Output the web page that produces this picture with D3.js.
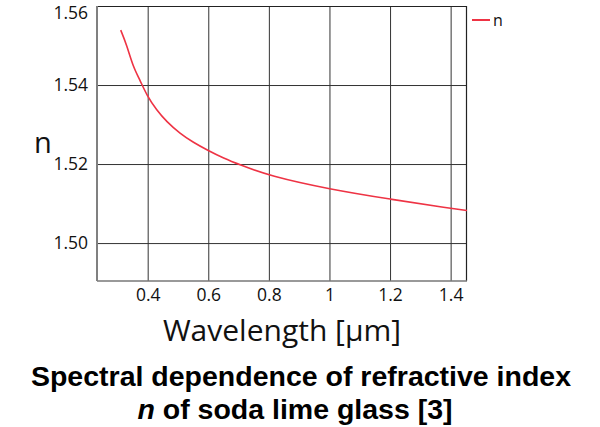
<!DOCTYPE html>
<html>
<head>
<meta charset="utf-8">
<script src="https://cdn.jsdelivr.net/npm/d3@7"></script>
<style>
  body { margin: 0; background: #fff; }
  svg { display: block; }
  .tick text { font-family: "Open Sans", "Noto Sans", sans-serif; }
</style>
</head>
<body>
<svg id="chart" width="600" height="427"></svg>
<script>
// wavelength in um
const wavelength = [0.311, 0.331, 0.352, 0.375, 0.397, 0.430, 0.463, 0.507, 0.550, 0.600, 0.650, 0.705, 0.801, 1.001, 1.200, 1.400, 1.457];
// refractive index n
const refIndex = [1.5539, 1.5501, 1.5446, 1.5412, 1.5374, 1.5336, 1.5307, 1.5277, 1.5255, 1.5234, 1.5215, 1.5198, 1.5170, 1.5136, 1.5111, 1.5088, 1.5082];

const xTicks = [0.4, 0.6, 0.8, 1.0, 1.2, 1.4];
const yTicks = [1.50, 1.52, 1.54, 1.56];
const seriesName = "n";

const data = wavelength.map((w, i) => ({ w: w, n: refIndex[i] }));

const svg = d3.select("#chart");
const margin = { top: 6, left: 97, right: 133, bottom: 146 };
const width = 600, height = 427;
const innerW = width - margin.left - margin.right;
const innerH = height - margin.top - margin.bottom;

const xScale = d3.scaleLinear().domain([0.2327, 1.454]).range([0, innerW]);
const yScale = d3.scaleLinear().domain([1.4904, 1.56]).range([innerH, 0]);

const g = svg.append("g").attr("transform", `translate(${margin.left},${margin.top})`);

// gridlines
g.append("g")
  .attr("class", "grid")
  .call(d3.axisBottom(xScale).tickValues(xTicks).tickSize(innerH).tickFormat(""))
  .call(s => s.select(".domain").remove())
  .selectAll("line").attr("stroke", "#333").attr("stroke-width", 1);

g.append("g")
  .attr("class", "grid")
  .call(d3.axisLeft(yScale).tickValues(yTicks).tickSize(-innerW).tickFormat(""))
  .call(s => s.select(".domain").remove())
  .selectAll("line").attr("stroke", "#333").attr("stroke-width", 1);

// frame: top/right black, left/bottom grey
g.append("line").attr("x1", 0).attr("x2", innerW).attr("y1", 0.5).attr("y2", 0.5)
  .attr("stroke", "#222").attr("stroke-width", 1.2);
g.append("line").attr("x1", innerW - 0.5).attr("x2", innerW - 0.5).attr("y1", 0).attr("y2", innerH)
  .attr("stroke", "#222").attr("stroke-width", 1.2);
g.append("line").attr("x1", 0).attr("x2", innerW).attr("y1", innerH).attr("y2", innerH)
  .attr("stroke", "#777").attr("stroke-width", 1.5);
g.append("line").attr("x1", 0).attr("x2", 0).attr("y1", 0).attr("y2", innerH)
  .attr("stroke", "#808080").attr("stroke-width", 2);

// axes (labels only)
const xAxis = g.append("g")
  .attr("transform", `translate(0,${innerH})`)
  .call(d3.axisBottom(xScale).tickValues(xTicks).tickSize(0).tickPadding(8)
    .tickFormat(d => d3.format("~g")(d)));
xAxis.select(".domain").remove();
xAxis.selectAll("text").attr("font-size", 17.5).attr("fill", "#111");

const yAxis = g.append("g")
  .call(d3.axisLeft(yScale).tickValues(yTicks).tickSize(0).tickPadding(9)
    .tickFormat(d3.format(".2f")));
yAxis.select(".domain").remove();
yAxis.selectAll("text").attr("font-size", 17.5).attr("fill", "#111")
  .attr("dy", d => d === 1.56 ? "0.72em" : "0.32em");

// clip for the line
svg.append("clipPath").attr("id", "plotclip")
  .append("rect").attr("width", innerW).attr("height", innerH);

const line = d3.line()
  .x(d => xScale(d.w))
  .y(d => yScale(d.n))
  .curve(d3.curveBasis);

g.append("path")
  .datum(data)
  .attr("clip-path", "url(#plotclip)")
  .attr("d", line)
  .attr("fill", "none")
  .attr("stroke", "#ee3344")
  .attr("stroke-width", 1.6);

// legend
const legend = svg.append("g").attr("transform", `translate(${margin.left + innerW + 5},20)`);
legend.append("line").attr("x1", 0).attr("x2", 18).attr("y1", 0).attr("y2", 0)
  .attr("stroke", "#ee3344").attr("stroke-width", 2);
legend.append("text").attr("x", 21).attr("y", 6)
  .attr("font-family", "Open Sans, Noto Sans, sans-serif").attr("font-size", 16)
  .attr("fill", "#111").text(seriesName);

// axis titles
svg.append("text")
  .attr("x", 43).attr("y", 153)
  .attr("text-anchor", "middle")
  .attr("font-family", "Open Sans, Noto Sans, sans-serif")
  .attr("font-size", 29).attr("fill", "#111")
  .text("n");

svg.append("text")
  .attr("x", 282).attr("y", 341)
  .attr("text-anchor", "middle")
  .attr("font-family", "Open Sans, Noto Sans, sans-serif")
  .attr("font-size", 30).attr("fill", "#111")
  .text("Wavelength [µm]");

// caption
const cap = svg.append("text")
  .attr("font-family", "Liberation Sans, Arial, sans-serif")
  .attr("font-weight", "bold").attr("font-size", 28.5).attr("fill", "#000")
  .attr("text-anchor", "middle");
cap.append("tspan").attr("x", 301).attr("y", 386).text("Spectral dependence of refractive index");
const l2 = cap.append("tspan").attr("x", 295).attr("y", 419);
l2.append("tspan").attr("font-style", "italic").text("n");
l2.append("tspan").text(" of soda lime glass [3]");
</script>
</body>
</html>
